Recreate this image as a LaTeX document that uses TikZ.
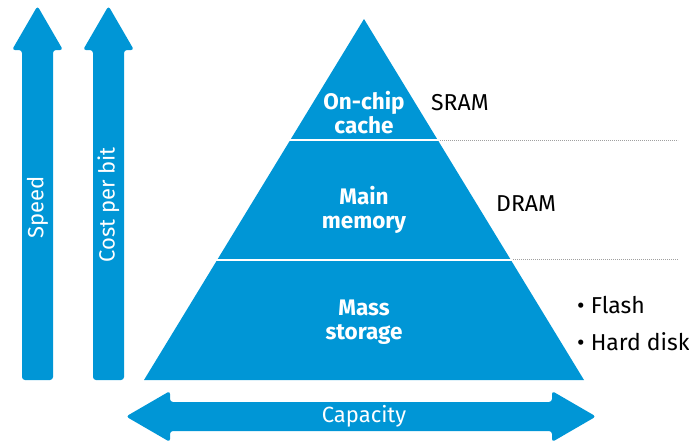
\documentclass[tikz,border=0pt]{standalone}
\usepackage{fontspec}
\setmainfont{Fira Sans}
\definecolor{hpblue}{HTML}{0096D6}
\definecolor{dotgray}{HTML}{A0A0A0}
\tikzset{
  blk/.style={fill=hpblue, draw=none},
  arr/.style={fill=hpblue, draw=none, rounded corners=3pt},
  tier/.style={text=white, font=\fontsize{22.5}{24}\selectfont\bfseries, align=center, inner sep=0pt},
  side/.style={text=black, font=\fontsize{23}{26}\selectfont, anchor=west, inner sep=0pt},
  arrlbl/.style={text=white, font=\fontsize{22}{24}\selectfont, inner sep=0pt},
  sep/.style={white, line width=2pt},
  dots/.style={dotgray, line width=0.8pt, dash pattern=on 0.8pt off 1.2pt}
}
\begin{document}
\begin{tikzpicture}[x=1pt,y=-1pt]
\useasboundingbox (0,0) rectangle (689,442);
% vertical arrows
\fill[arr] (22,380) -- (22,50) -- (12,50) -- (37.5,6) -- (63,50) -- (53,50) -- (53,380) -- cycle;
\fill[arr] (93,380) -- (93,50) -- (83,50) -- (108.5,6) -- (134,50) -- (124,50) -- (124,380) -- cycle;
\node[arrlbl, rotate=90] (speed) at (37.5,207) {Speed};
\node[arrlbl, rotate=90] (cost) at (108.5,205) {Cost per bit};
% horizontal arrow
\fill[arr] (170,402) -- (170,391) -- (126,416.5) -- (170,442) -- (170,431) -- (552,431) -- (552,442) -- (596,416.5) -- (552,391) -- (552,402) -- cycle;
\node[arrlbl] (cap) at (364,416) {Capacity};
% pyramid
\coordinate (apex) at (364,19);
\coordinate (bl) at (144,380);
\coordinate (br) at (584,380);
\fill[blk] (apex) -- (br) -- (bl) -- cycle;
\coordinate (s1l) at (288,140);
\coordinate (s1r) at (440,140);
\coordinate (s2l) at (215,259.5);
\coordinate (s2r) at (513,259.5);
\draw[sep] (s1l) -- (s1r);
\draw[sep] (s2l) -- (s2r);
\coordinate (d1) at (678,140);
\coordinate (d2) at (678,259.5);
\draw[dots] (s1r) -- (d1);
\draw[dots] (s2r) -- (d2);
% tier labels
\node[tier] (t1) at (364,113) {On-chip\\cache};
\node[tier] (t2) at (364,210) {Main\\memory};
\node[tier] (t3) at (364,322) {Mass\\storage};
% side labels
\node[side] (sram) at (431,103) {SRAM};
\node[side] (dram) at (496,204) {DRAM};
\node[side] (flash) at (577,305) {• Flash};
\node[side] (hd) at (577,342) {• Hard disk};
\end{tikzpicture}
\end{document}
